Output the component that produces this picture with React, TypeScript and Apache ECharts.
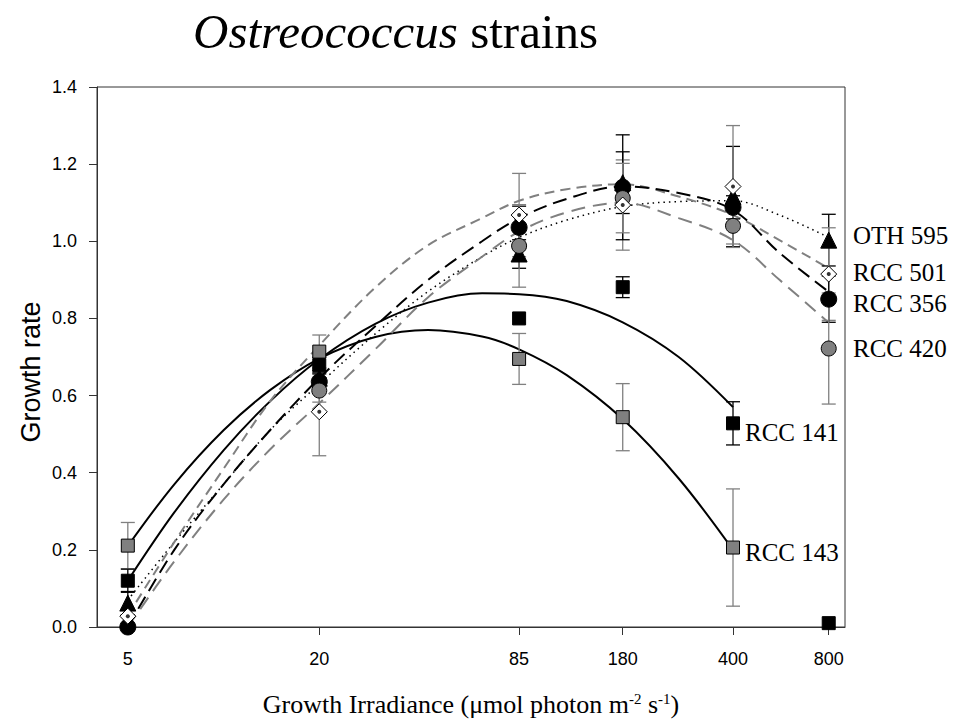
import React, { useEffect, useRef } from "react";
import * as echarts from "echarts";

// Growth irradiance levels (µmol photon m-2 s-1)
const irradiance = [5, 20, 85, 180, 400, 800];
const irradiance143 = [5, 20, 85, 180, 400];

// Measured growth rates (markers) and their error half-widths
const rcc143 = [0.211, 0.714, 0.695, 0.544, 0.206];
const rcc143Err = [0.06, 0.043, 0.066, 0.087, 0.152];
const rcc141 = [0.12, 0.679, 0.8, 0.881, 0.528, 0.01];
const rcc141Err = [0.03, 0.02, 0.0, 0.027, 0.056, 0];
const oth595 = [0.062, 0.645, 0.967, 1.152, 1.116, 1.003];
const oth595Err = [0.03, 0.02, 0.037, 0.08, 0.13, 0.067];
const rcc501 = [0.028, 0.558, 1.068, 1.094, 1.142, 0.915];
const rcc501Err = [0.02, 0.114, 0.108, 0.117, 0.158, 0.12];
const rcc356 = [0.0, 0.636, 1.036, 1.14, 1.088, 0.85];
const rcc356Err = [0.0, 0.02, 0.055, 0.136, 0.03, 0.06];
const rcc420: (number | null)[] = [null, 0.613, 0.988, 1.112, 1.04, 0.722];
const rcc420Err = [0.0, 0.03, 0.107, 0.09, 0.047, 0.144];

// Fitted curves at these irradiances
const fitX = [5, 7, 10, 14, 20, 30, 44, 65, 85, 120, 180, 270, 400, 560, 800];
const fit143 = [0.21, 0.37, 0.51, 0.614, 0.696, 0.752, 0.77, 0.753, 0.72, 0.653, 0.539, 0.385, 0.2];
const fit141 = [0.12, 0.297, 0.458, 0.585, 0.694, 0.786, 0.841, 0.865, 0.863, 0.845, 0.79, 0.7, 0.57];
const fitOth595 = [0.07, 0.22, 0.37, 0.51, 0.63, 0.76, 0.87, 0.96, 1.01, 1.055, 1.09, 1.103, 1.105, 1.068, 1.01];
const fit501 = [0.03, 0.22, 0.41, 0.585, 0.73, 0.88, 0.99, 1.06, 1.105, 1.135, 1.148, 1.116, 1.068, 1.003, 0.93];
const fit356 = [0.0, 0.2, 0.37, 0.51, 0.645, 0.78, 0.9, 1.0, 1.06, 1.11, 1.142, 1.125, 1.081, 0.97, 0.869];
const fit420 = [0.0, 0.17, 0.33, 0.46, 0.58, 0.72, 0.855, 0.96, 1.025, 1.075, 1.1, 1.06, 1.003, 0.9, 0.789];

const yTicks = [0, 0.2, 0.4, 0.6, 0.8, 1.0, 1.2, 1.4];

const SERIF = "'Liberation Serif', 'Times New Roman', serif";
const SANS = "'Liberation Sans', Arial, sans-serif";
const GRAY = "#808080";
const AXIS = "#333";

function pairs(xs: number[], ys: (number | null)[]) {
  return ys.map((y, i) => [xs[i], y]);
}
function errData(xs: number[], ys: (number | null)[], es: number[]) {
  return ys.map((y, i) => [xs[i], y == null ? 0 : y, y == null ? 0 : es[i]]);
}

function errorSeries(xs: number[], ys: (number | null)[], es: number[], color: string, z: number) {
  return {
    type: "custom",
    z,
    silent: true,
    data: errData(xs, ys, es),
    renderItem: (params: any, api: any) => {
      const x = api.value(0);
      const y = api.value(1);
      const e = api.value(2);
      if (!e) return null;
      const top = api.coord([x, y + e]);
      const bot = api.coord([x, y - e]);
      const cap = 7;
      const style = { stroke: color, lineWidth: 1.3 };
      return {
        type: "group",
        children: [
          { type: "line", shape: { x1: top[0], y1: top[1], x2: bot[0], y2: bot[1] }, style },
          { type: "line", shape: { x1: top[0] - cap, y1: top[1], x2: top[0] + cap, y2: top[1] }, style },
          { type: "line", shape: { x1: bot[0] - cap, y1: bot[1], x2: bot[0] + cap, y2: bot[1] }, style },
        ],
      };
    },
  };
}

function fitSeries(xs: number[], ys: number[], color: string, type: any, width: number, z: number) {
  return {
    type: "line",
    z,
    silent: true,
    smooth: 0.35,
    showSymbol: false,
    symbol: "none",
    data: pairs(xs, ys),
    lineStyle: { color, width, type },
  };
}

function scatterSeries(xs: number[], ys: (number | null)[], symbol: string, size: number, fill: string, z: number) {
  return {
    type: "scatter",
    z,
    silent: true,
    symbol,
    symbolSize: size,
    data: pairs(xs, ys).filter((p) => p[1] != null),
    itemStyle: { color: fill, borderColor: "#000", borderWidth: 1, opacity: 1 },
  };
}

export default function App() {
  const ref = useRef<HTMLDivElement>(null);

  useEffect(() => {
    document.body.style.margin = "0";
    if (!ref.current) return;
    const chart = echarts.init(ref.current, null, { renderer: "svg" });

    const labelStyle = { fontFamily: SERIF, fontSize: 25, fill: "#000" };

    chart.setOption({
      animation: false,
      backgroundColor: "#fff",
      grid: {
        left: 97,
        right: 111,
        top: 87,
        bottom: 93,
        show: true,
        borderColor: AXIS,
        borderWidth: 1,
        backgroundColor: "transparent",
      },
      xAxis: {
        type: "log",
        logBase: 10,
        min: 4,
        max: 900,
        axisLine: { show: true, lineStyle: { color: AXIS, width: 1 } },
        axisTick: { show: true, customValues: irradiance, length: 8, lineStyle: { color: AXIS } },
        axisLabel: {
          customValues: irradiance,
          formatter: (v: number) => String(Math.round(v)),
          fontFamily: SANS,
          fontSize: 18,
          color: "#000",
          margin: 23,
        },
        splitLine: { show: false },
        minorTick: { show: false },
      },
      yAxis: {
        type: "value",
        min: 0,
        max: 1.4,
        interval: 0.2,
        axisLine: { show: true, lineStyle: { color: AXIS, width: 1 } },
        axisTick: { show: true, length: 8, lineStyle: { color: AXIS } },
        axisLabel: {
          customValues: yTicks,
          formatter: (v: number) => v.toFixed(1),
          fontFamily: SANS,
          fontSize: 18,
          color: "#000",
          margin: 20,
        },
        splitLine: { show: false },
      },
      graphic: [
        {
          type: "text",
          x: 193,
          y: 31,
          style: {
            text: "{i|Ostreococcus} {n|strains}",
            verticalAlign: "middle",
            rich: {
              i: { fontFamily: SERIF, fontSize: 49, fontStyle: "italic", fill: "#000" },
              n: { fontFamily: SERIF, fontSize: 49, fill: "#000" },
            },
            fontFamily: SERIF,
            fontSize: 49,
            fill: "#000",
          },
        },
        {
          type: "text",
          x: 31,
          y: 372,
          rotation: Math.PI / 2,
          style: {
            text: "Growth rate",
            fontFamily: SANS,
            fontSize: 27,
            fill: "#000",
            align: "center",
            verticalAlign: "middle",
          },
        },
        {
          type: "text",
          x: 471,
          y: 704,
          style: {
            text: "Growth Irradiance (\u03bcmol photon m{sup|-2} s{sup|-1})",
            fontFamily: SERIF,
            fontSize: 26,
            fill: "#000",
            align: "center",
            verticalAlign: "middle",
            rich: {
              sup: { fontFamily: SERIF, fontSize: 15, fill: "#000", verticalAlign: "top" },
            },
          },
        },
        { type: "text", x: 853, y: 235, style: { ...labelStyle, text: "OTH 595", verticalAlign: "middle" } },
        { type: "text", x: 853, y: 272, style: { ...labelStyle, text: "RCC 501", verticalAlign: "middle" } },
        { type: "text", x: 853, y: 303, style: { ...labelStyle, text: "RCC 356", verticalAlign: "middle" } },
        { type: "text", x: 853, y: 348, style: { ...labelStyle, text: "RCC 420", verticalAlign: "middle" } },
        { type: "text", x: 745, y: 432, style: { ...labelStyle, text: "RCC 141", verticalAlign: "middle" } },
        { type: "text", x: 745, y: 552, style: { ...labelStyle, text: "RCC 143", verticalAlign: "middle" } },
      ],
      series: [
        // fitted curves
        fitSeries(fitX.slice(0, fit143.length), fit143, "#000", "solid", 2, 2),
        fitSeries(fitX.slice(0, fit141.length), fit141, "#000", "solid", 2, 2),
        fitSeries(fitX, fitOth595, "#000", [1.5, 4], 1.5, 2),
        fitSeries(fitX, fit501, GRAY, [10, 6], 2, 2),
        fitSeries(fitX, fit356, "#000", [14, 7], 2, 2),
        fitSeries(fitX, fit420, GRAY, [14, 8], 2, 2),
        // error bars
        errorSeries(irradiance143, rcc143, rcc143Err, GRAY, 3),
        errorSeries(irradiance, rcc141, rcc141Err, "#000", 3),
        errorSeries(irradiance, oth595, oth595Err, "#000", 3),
        errorSeries(irradiance, rcc501, rcc501Err, GRAY, 3),
        errorSeries(irradiance, rcc356, rcc356Err, "#000", 3),
        errorSeries(irradiance, rcc420, rcc420Err, GRAY, 3),
        // markers
        scatterSeries(irradiance143, rcc143, "rect", 13, GRAY, 4),
        scatterSeries(irradiance, rcc141, "rect", 13, "#000", 5),
        scatterSeries(irradiance, oth595, "triangle", 16, "#000", 6),
        scatterSeries(irradiance, rcc356, "circle", 16, "#000", 7),
        scatterSeries(irradiance, rcc420, "circle", 15, GRAY, 8),
        scatterSeries(irradiance, rcc501, "diamond", 16, "#fff", 9),
        {
          type: "scatter",
          z: 10,
          silent: true,
          symbol: "circle",
          symbolSize: 4,
          data: pairs(irradiance, rcc501),
          itemStyle: { color: "#000" },
        },
      ],
    });

    return () => chart.dispose();
  }, []);

  return <div ref={ref} style={{ width: 956, height: 720 }} />;
}
